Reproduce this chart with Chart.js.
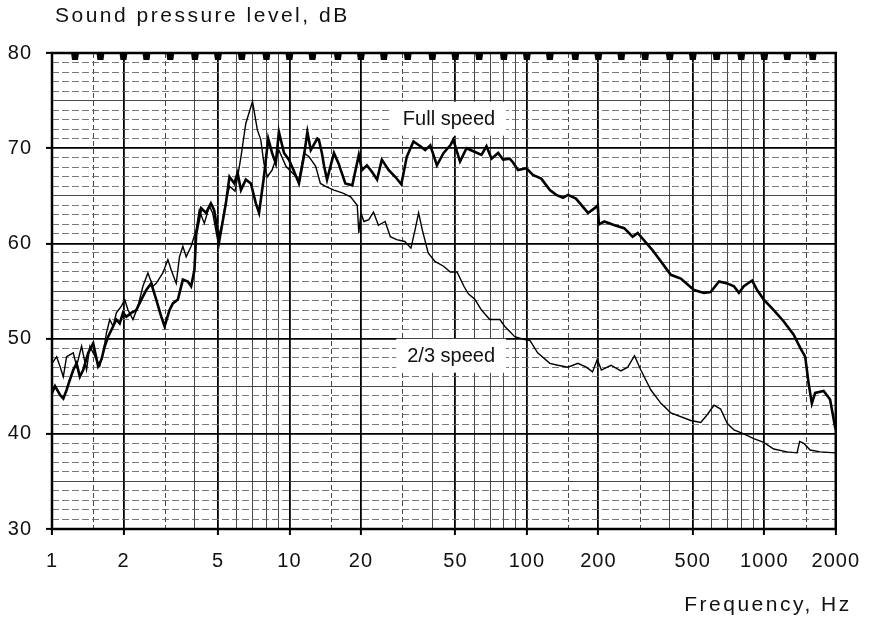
<!DOCTYPE html>
<html>
<head>
<meta charset="utf-8">
<script src="https://cdn.jsdelivr.net/npm/chart.js@4.4.1/dist/chart.umd.min.js"></script>
<style>
  html, body { margin: 0; padding: 0; background: #fff; }
  #wrap { position: relative; width: 872px; height: 621px; }
</style>
</head>
<body>
<div id="wrap"><canvas id="spl" width="872" height="621"></canvas></div>
<script>
// values (Hz, dB)
const fullFreq = [1.0, 1.03, 1.08, 1.116, 1.152, 1.19, 1.229, 1.269, 1.31, 1.353, 1.42, 1.491, 1.564, 1.615, 1.668,
  1.723, 1.779, 1.867, 1.928, 1.991, 2.057, 2.158, 2.265, 2.377, 2.495, 2.618, 2.748, 2.885, 2.98, 3.126, 3.23,
  3.39, 3.557, 3.733, 3.855, 3.98, 4.05, 4.25, 4.45, 4.67, 4.82, 5.06, 5.4, 5.59, 5.86, 6.05, 6.25, 6.55, 6.88,
  7.22, 7.45, 7.81, 8.14, 8.45, 8.76, 9.03, 9.49, 9.95, 10.4, 10.97, 11.5, 11.9, 12.3, 13.1, 13.3, 13.7, 14.0,
  14.4, 15.4, 16.1, 17.2, 18.4, 19.6, 20.2, 21.2, 22.3, 23.4, 24.5, 26.2, 27.9, 29.6, 31.2, 33.3, 35.6, 37.3,
  39.2, 41.8, 44.6, 47.6, 49.0, 52.3, 55.7, 60.5, 64.4, 67.6, 71.0, 75.7, 79.4, 84.7, 87.5, 91.8, 99.5, 106,
  115, 125, 133, 142, 149, 161, 181, 193, 199, 201, 212, 234, 257, 279, 293, 338, 404, 445, 506, 557, 594, 645,
  698, 745, 782, 820, 889, 933, 995, 1096, 1208, 1330, 1419, 1487, 1537, 1586, 1638, 1778, 1893, 1987, 2000];
const fullLevel = [44.3, 45.0, 44.1, 43.7, 44.6, 45.7, 46.7, 47.4, 46.0, 46.7, 48.5, 49.5, 47.1, 47.8, 49.2,
  50.2, 50.9, 52.0, 51.6, 52.7, 52.3, 52.7, 53.0, 54.1, 55.1, 55.8, 54.1, 52.3, 51.3, 53.0, 53.7,
  54.1, 56.2, 56.0, 55.5, 57.2, 61.0, 63.7, 63.2, 64.2, 63.5, 60.2, 64.2, 67.0, 66.3, 67.4, 65.6, 66.7, 66.3,
  64.2, 63.2, 67.0, 71.0, 69.5, 68.4, 71.7, 69.5, 68.8, 67.7, 66.3, 69.1, 71.7, 69.8, 71.0, 70.9, 69.5, 68.1,
  66.7, 69.5, 68.4, 66.3, 66.1, 69.3, 67.7, 68.2, 67.5, 66.7, 68.8, 67.7, 67.0, 66.2, 69.1, 70.7, 70.2, 69.8,
  70.3, 68.2, 69.5, 70.3, 70.9, 68.6, 70.0, 69.6, 69.3, 70.2, 68.9, 69.5, 68.8, 68.9, 68.5, 67.7, 67.9, 67.2,
  66.8, 65.6, 65.1, 64.8, 65.1, 64.7, 63.2, 63.7, 64.0, 62.0, 62.3, 61.9, 61.6, 60.7, 61.1, 59.3, 56.7, 56.3,
  55.1, 54.8, 54.9, 56.0, 55.8, 55.5, 54.8, 55.5, 56.1, 55.1, 54.1, 53.0, 51.8, 50.4, 49.0, 48.1, 45.3, 43.2,
  44.3, 44.5, 43.6, 40.7, 40.5];

const slowFreq = [1.0, 1.046, 1.08, 1.116, 1.152, 1.229, 1.269, 1.332, 1.398, 1.444, 1.491, 1.539, 1.589, 1.642,
  1.696, 1.751, 1.808, 1.867, 1.96, 2.024, 2.09, 2.193, 2.302, 2.415, 2.535, 2.66, 2.748, 2.93, 3.076, 3.178,
  3.336, 3.444, 3.557, 3.674, 3.855, 4.046, 4.17, 4.38, 4.6, 4.75, 4.98, 5.2, 5.4, 5.6, 5.9, 6.05, 6.25, 6.55,
  6.99, 7.33, 7.57, 7.81, 8.07, 8.45, 9.03, 9.67, 10.3, 10.97, 11.5, 12.1, 12.9, 13.5, 14.2, 15.4, 16.7, 18.1,
  19.3, 19.6, 20.0, 20.6, 21.6, 22.6, 23.7, 25.3, 26.6, 28.3, 30.6, 32.5, 33.8, 35.0, 36.3, 38.4, 41.0, 44.6,
  47.6, 50.8, 54.3, 56.7, 60.5, 64.4, 69.8, 77.0, 80.6, 88.9, 98.0, 103, 111, 125, 135, 149, 164, 178, 189, 198,
  206, 226, 249, 266, 284, 302, 333, 367, 404, 490, 540, 575, 614, 655, 698, 745, 820, 903, 995, 1096, 1247,
  1374, 1410, 1465, 1561, 1719, 2000];
const slowLevel = [47.4, 48.1, 47.1, 46.0, 48.1, 48.5, 47.1, 49.2, 46.7, 49.2, 48.5, 47.8, 47.1, 48.5,
  50.6, 52.0, 51.3, 52.7, 53.4, 54.1, 53.0, 52.0, 53.4, 55.5, 56.9, 55.5, 55.8, 56.9, 58.3, 57.2,
  55.8, 58.6, 59.7, 58.6, 59.7, 61.4, 63.5, 62.1, 63.9, 63.2, 60.4, 62.0, 64.5, 66.0, 65.5, 67.0, 69.1, 72.6,
  74.9, 71.9, 70.9, 68.4, 67.0, 67.7, 69.8, 68.1, 67.4, 66.7, 69.5, 69.1, 68.1, 66.3, 66.0, 65.6, 65.3, 64.9,
  64.0, 61.1, 63.2, 62.3, 62.5, 63.3, 61.9, 62.3, 60.7, 60.4, 60.2, 59.5, 61.4, 63.2, 61.4, 59.0, 58.1, 57.6,
  57.0, 57.0, 55.5, 54.7, 54.1, 53.0, 52.0, 52.0, 51.3, 50.2, 49.9, 49.8, 48.5, 47.4, 47.2, 47.0, 47.4, 47.0, 46.5, 47.8,
  46.7, 47.2, 46.6, 47.0, 48.2, 46.7, 44.6, 43.2, 42.2, 41.4, 41.2, 42.0, 43.0, 42.6, 41.1, 40.4, 40.0, 39.5, 39.1, 38.4, 38.1,
  38.0, 39.2, 39.0, 38.3, 38.1, 38.0];

const seriesNames = ['Full speed', '2/3 speed'];
const nameFreq = [47, 48];
const nameLevel = [73.1, 48.2];

const gridFreqs = [1, 1.5, 2, 3, 4, 5, 6, 7, 8, 9, 10, 15, 20, 30, 40, 50, 60, 70, 80, 90,
  100, 150, 200, 300, 400, 500, 600, 700, 800, 900, 1000, 1500, 2000];
const freqLabels = [1, 2, 5, 10, 20, 50, 100, 200, 500, 1000, 2000];
const levelLabels = [30, 40, 50, 60, 70, 80];
const thirdOctave = [1.25, 1.6, 2, 2.5, 3.15, 4, 5, 6.3, 8, 10, 12.5, 16, 20, 25, 31.5, 40, 50, 63, 80,
  100, 125, 160, 200, 250, 315, 400, 500, 630, 800, 1000, 1250, 1600];

const FONT = '"Liberation Sans", Arial, Helvetica, sans-serif';

function mantissa(v) {
  const e = Math.floor(Math.log10(v) + 1e-9);
  return v / Math.pow(10, e);
}

// frame, 1/3-octave tabs, labels in the plot, axis titles
const paperPlugin = {
  id: 'paper',
  beforeDraw(chart) {
    chart.ctx.letterSpacing = '1px';
  },
  beforeDatasetsDraw(chart) {
    const ctx = chart.ctx;
    const xs = chart.scales.x, ys = chart.scales.y;
    ctx.save();
    ctx.letterSpacing = '0px';
    ctx.font = '20px ' + FONT;
    seriesNames.forEach((name, i) => {
      const cx = xs.getPixelForValue(nameFreq[i]);
      const cy = ys.getPixelForValue(nameLevel[i]);
      const w = ctx.measureText(name).width + 22;
      const h = 34;
      ctx.fillStyle = '#fff';
      ctx.fillRect(cx - w / 2, cy - h / 2, w, h);
    });
    ctx.restore();
  },
  afterDatasetsDraw(chart) {
    const ctx = chart.ctx;
    const a = chart.chartArea;
    const xs = chart.scales.x, ys = chart.scales.y;
    ctx.save();
    ctx.letterSpacing = '0px';
    ctx.font = '20px ' + FONT;
    ctx.fillStyle = '#111';
    ctx.textAlign = 'center';
    ctx.textBaseline = 'middle';
    seriesNames.forEach((name, i) => {
      ctx.fillText(name, xs.getPixelForValue(nameFreq[i]), ys.getPixelForValue(nameLevel[i]) + 1);
    });

    // tabs hanging from the top edge
    ctx.fillStyle = '#000';
    thirdOctave.forEach(f => {
      const x = xs.getPixelForValue(f);
      ctx.beginPath();
      ctx.moveTo(x - 4, a.top);
      ctx.lineTo(x + 4, a.top);
      ctx.lineTo(x + 3, a.top + 7);
      ctx.lineTo(x - 3, a.top + 7);
      ctx.closePath();
      ctx.fill();
    });

    // frame
    ctx.strokeStyle = '#000';
    ctx.lineWidth = 2.5;
    ctx.strokeRect(a.left, a.top, a.right - a.left, a.bottom - a.top);
    ctx.restore();
  },
  afterDraw(chart) {
    const ctx = chart.ctx;
    const a = chart.chartArea;
    ctx.save();
    ctx.font = '21px ' + FONT;
    ctx.letterSpacing = '2.5px';
    ctx.fillStyle = '#111';
    ctx.textBaseline = 'alphabetic';
    ctx.textAlign = 'left';
    ctx.fillText('Sound pressure level, dB', a.left + 3, a.top - 31);
    ctx.textAlign = 'right';
    ctx.fillText('Frequency, Hz', a.right + 16, a.bottom + 82);
    ctx.restore();
    ctx.letterSpacing = '0px';
  }
};

new Chart(document.getElementById('spl'), {
  type: 'scatter',
  data: {
    datasets: [
      {
        label: seriesNames[0],
        data: fullFreq.map((f, i) => ({ x: f, y: fullLevel[i] })),
        showLine: true,
        borderColor: '#000',
        borderWidth: 2.6,
        pointRadius: 0,
        tension: 0
      },
      {
        label: seriesNames[1],
        data: slowFreq.map((f, i) => ({ x: f, y: slowLevel[i] })),
        showLine: true,
        borderColor: '#000',
        borderWidth: 1.4,
        pointRadius: 0,
        tension: 0
      }
    ]
  },
  options: {
    responsive: false,
    animation: false,
    layout: { padding: { top: 53, right: 33, left: 0, bottom: 0 } },
    plugins: {
      legend: { display: false },
      tooltip: { enabled: false }
    },
    scales: {
      x: {
        type: 'logarithmic',
        min: 1,
        max: 2000,
        afterBuildTicks: axis => { axis.ticks = gridFreqs.map(v => ({ value: v })); },
        afterFit: axis => { axis.height = 92; },
        ticks: {
          autoSkip: false,
          maxRotation: 0,
          padding: 14,
          color: '#111',
          font: { family: FONT, size: 20 },
          callback: v => freqLabels.includes(v) ? String(v) : ''
        },
        grid: {
          color: c => freqLabels.includes(c.tick && c.tick.value) ? '#000' : '#333',
          lineWidth: c => freqLabels.includes(c.tick && c.tick.value) ? 1.8 : 0.9,
          tickLength: 6,
          tickWidth: 2,
          tickColor: c => freqLabels.includes(c.tick && c.tick.value) ? '#000' : 'rgba(0,0,0,0)'
        },
        border: {
          display: false,
          dash: c => {
            if (!c.tick) return [];
            const m = mantissa(c.tick.value);
            return (Math.abs(m - 1.5) < 1e-6 || Math.abs(m - 3) < 1e-6) ? [5, 3] : [];
          }
        }
      },
      y: {
        type: 'linear',
        min: 30,
        max: 80,
        afterBuildTicks: axis => {
          const t = [];
          for (let v = 30; v <= 80; v++) t.push({ value: v });
          axis.ticks = t;
        },
        afterFit: axis => { axis.width = 52; },
        ticks: {
          autoSkip: false,
          padding: 14,
          color: '#111',
          font: { family: FONT, size: 20 },
          callback: v => levelLabels.includes(v) ? String(v) : ''
        },
        grid: {
          color: c => {
            const v = c.tick ? c.tick.value : 0;
            return v % 10 === 0 ? '#000' : (v % 5 === 0 ? '#333' : '#6a6a6a');
          },
          lineWidth: c => {
            const v = c.tick ? c.tick.value : 0;
            return v % 10 === 0 ? 1.8 : 0.9;
          },
          tickLength: 6,
          tickWidth: 2,
          tickColor: c => levelLabels.includes(c.tick && c.tick.value) ? '#000' : 'rgba(0,0,0,0)'
        },
        border: {
          display: false,
          dash: c => {
            if (!c.tick) return [];
            return c.tick.value % 5 === 0 ? [] : [7, 3];
          }
        }
      }
    }
  },
  plugins: [paperPlugin]
});
</script>
</body>
</html>
